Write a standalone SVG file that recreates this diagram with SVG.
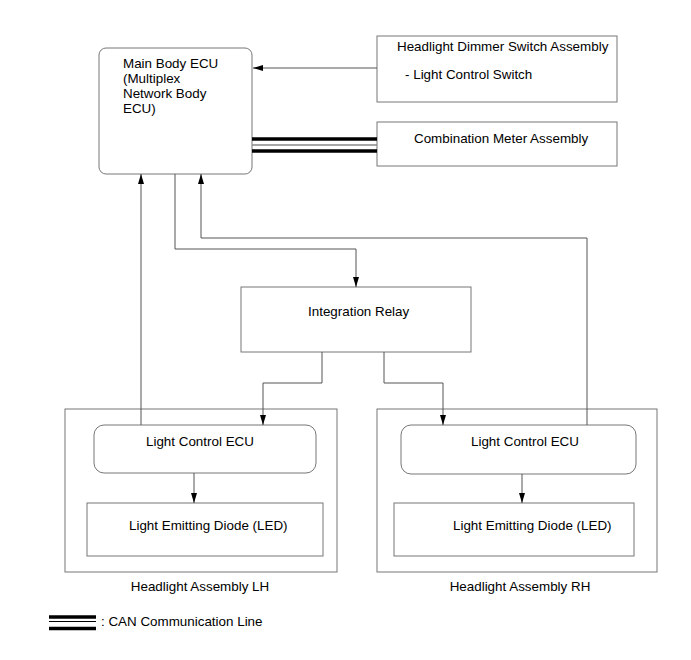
<svg xmlns="http://www.w3.org/2000/svg" width="691" height="660" viewBox="0 0 691 660">
<defs>
<style>
.box{fill:#fff;stroke:#777;stroke-width:1}
.ln{fill:none;stroke:#555;stroke-width:1}
text{font-family:"Liberation Sans",Arial,sans-serif;font-size:13.4px;fill:#000}
.mid{text-anchor:middle}
</style>
<marker id="arr" viewBox="0 0 10 6" refX="10" refY="3" markerWidth="10" markerHeight="6" markerUnits="userSpaceOnUse" orient="auto">
<path d="M0,0 L10,3 L0,6 z" fill="#000"/>
</marker>
</defs>
<rect width="691" height="660" fill="#fff"/>
<g id="main-body-ecu">
<rect class="box" x="99" y="48" width="153" height="126" rx="7"/>
<text x="123" y="68">Main Body ECU</text>
<text x="123" y="83">(Multiplex</text>
<text x="123" y="98">Network Body</text>
<text x="123" y="113">ECU)</text>
</g>
<g id="dimmer-switch">
<rect class="box" x="377" y="36" width="240" height="66"/>
<text x="397" y="51">Headlight Dimmer Switch Assembly</text>
<text x="405" y="79">- Light Control Switch</text>
</g>
<g id="combination-meter">
<rect class="box" x="377" y="122" width="240" height="44"/>
<text x="414" y="143">Combination Meter Assembly</text>
</g>
<g id="integration-relay">
<rect class="box" x="241" y="287" width="230" height="65"/>
<text x="308" y="316">Integration Relay</text>
</g>
<g id="headlight-lh">
<rect class="box" x="65" y="409" width="272" height="163"/>
<text class="mid" x="200" y="591">Headlight Assembly LH</text>
</g>
<g id="light-control-ecu-lh">
<rect class="box" x="94" y="425" width="222" height="48" rx="10"/>
<text x="146" y="446">Light Control ECU</text>
</g>
<g id="led-lh">
<rect class="box" x="87" y="503" width="236" height="53"/>
<text x="129" y="530">Light Emitting Diode (LED)</text>
</g>
<g id="headlight-rh">
<rect class="box" x="377" y="409" width="280" height="163"/>
<text class="mid" x="520" y="591">Headlight Assembly RH</text>
</g>
<g id="light-control-ecu-rh">
<rect class="box" x="401" y="425" width="235" height="49" rx="10"/>
<text x="471" y="446">Light Control ECU</text>
</g>
<g id="led-rh">
<rect class="box" x="394" y="503" width="240" height="53"/>
<text x="453" y="530">Light Emitting Diode (LED)</text>
</g>
<g id="connectors">
<path class="ln" d="M377,68 H253" marker-end="url(#arr)"/>
<line x1="252" y1="139" x2="377" y2="139" stroke="#000" stroke-width="3.5"/>
<line x1="252" y1="145" x2="377" y2="145" stroke="#888" stroke-width="1.5"/>
<line x1="252" y1="151" x2="377" y2="151" stroke="#000" stroke-width="3.5"/>
<path class="ln" d="M175,174 V249 H356 V287" marker-end="url(#arr)"/>
<path class="ln" d="M322,352 V383 H263 V425" marker-end="url(#arr)"/>
<path class="ln" d="M384,352 V383 H443 V425" marker-end="url(#arr)"/>
<path class="ln" d="M141,425 V174" marker-end="url(#arr)"/>
<path class="ln" d="M587,425 V238 H201 V174" marker-end="url(#arr)"/>
<path class="ln" d="M194,473 V503" marker-end="url(#arr)"/>
<path class="ln" d="M522,474 V503" marker-end="url(#arr)"/>
</g>
<g id="legend">
<line x1="49" y1="617" x2="96" y2="617" stroke="#000" stroke-width="3.5"/>
<line x1="49" y1="621.5" x2="96" y2="621.5" stroke="#000" stroke-width="1"/>
<line x1="49" y1="628.5" x2="96" y2="628.5" stroke="#000" stroke-width="3.5"/>
<text x="101" y="626">: CAN Communication Line</text>
</g>
</svg>
